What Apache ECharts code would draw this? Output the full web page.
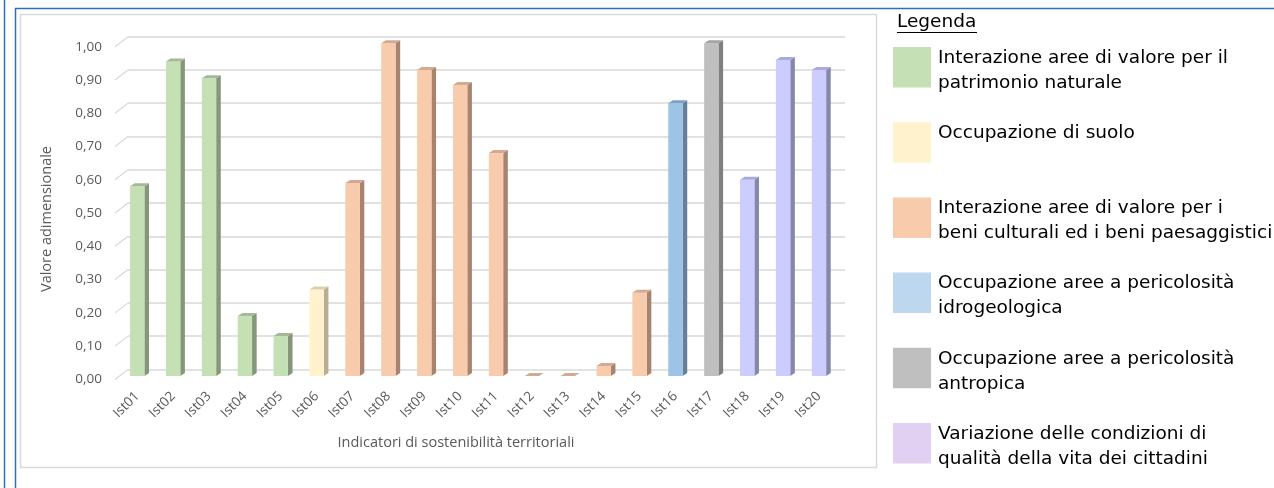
<!DOCTYPE html>
<html>
<head>
<meta charset="utf-8">
<script src="https://cdn.jsdelivr.net/npm/echarts@6/dist/echarts.min.js"></script>
<style>
html,body{margin:0;padding:0;background:#fff;}
#chart{width:1274px;height:488px;}
</style>
</head>
<body>
<div id="chart"></div>
<script>
// ---- data ----
const categories = ['Ist01','Ist02','Ist03','Ist04','Ist05','Ist06','Ist07','Ist08','Ist09','Ist10',
                    'Ist11','Ist12','Ist13','Ist14','Ist15','Ist16','Ist17','Ist18','Ist19','Ist20'];
const values = [0.57,0.945,0.895,0.18,0.12,0.26,0.58,1.00,0.92,0.875,
                0.67,0.00,0.00,0.03,0.25,0.82,1.00,0.59,0.95,0.92];
const groupOf = [0,0,0,0,0,1,2,2,2,2,2,2,2,2,2,3,4,5,5,5];
const legendLabels = [
  ['Interazione aree di valore per il','patrimonio naturale'],
  ['Occupazione di suolo'],
  ['Interazione aree di valore per i','beni culturali ed i beni paesaggistici'],
  ['Occupazione aree a pericolosità','idrogeologica'],
  ['Occupazione aree a pericolosità','antropica'],
  ['Variazione delle condizioni di','qualità della vita dei cittadini']
];
const legendTitle = 'Legenda';
const yAxisTitle = 'Valore adimensionale';
const xAxisTitle = 'Indicatori di sostenibilità territoriali';
const yTickValues = [0,0.1,0.2,0.3,0.4,0.5,0.6,0.7,0.8,0.9,1.0];

// ---- styles ----
const frontColors = ['#c5e0b4','#fff2cc','#f8cbad','#9dc3e6','#bfbfbf','#ccccff'];
const sideColors  = ['#84977a','#b9ae92','#a8846f','#64809b','#7f7f7f','#8687ad'];
const topColors   = ['#a4ba97','#dcd0ae','#d1aa91','#7ea1c2','#a3a3a3','#aaaad8'];
const legendColors = ['#c5e0b4','#fff2cc','#f8cbad','#bdd7ee','#bfbfbf','#e1d0f1'];
const axisTextColor = '#595959';
const gridColor = '#d9d9d9';
const legendFont = '18.5px "DejaVu Sans"';

const chart = echarts.init(document.getElementById('chart'), null, {renderer:'canvas'});

function renderBar(params, api){
  const i = api.value(0), v = api.value(1), g = api.value(2);
  const base = api.coord([i, 0]);
  const top = api.coord([i, v]);
  const w = api.size([1, 0])[0] * 0.4;
  const x0 = base[0] - w/2, x1 = base[0] + w/2;
  const yb = base[1], yt = top[1];
  const dx = 4.6, dy = -3;
  return {
    type:'group',
    children:[
      {type:'polygon', shape:{points:[[x1,yt],[x1+dx,yt+dy],[x1+dx,yb+dy],[x1,yb]]}, style:{fill:sideColors[g]}},
      {type:'rect', shape:{x:x0, y:yt, width:w, height:yb-yt}, style:{fill:frontColors[g]}},
      {type:'polygon', shape:{points:[[x0,yt],[x0+dx,yt+dy],[x1+dx,yt+dy],[x1,yt]]}, style:{fill:topColors[g]}}
    ]
  };
}

function renderDiag(params, api){
  const p = api.coord([0, api.value(1)]);
  return {type:'line', shape:{x1:p[0], y1:p[1], x2:p[0]+13, y2:p[1]-10}, style:{stroke:gridColor, lineWidth:1.2}};
}

const graphics = [];
// frame lines
graphics.push({type:'line', shape:{x1:4.5,y1:0,x2:4.5,y2:488}, style:{stroke:'#2f6fbd', lineWidth:1.5}, silent:true});
graphics.push({type:'line', shape:{x1:15.5,y1:8,x2:15.5,y2:488}, style:{stroke:'#2f6fbd', lineWidth:1.5}, silent:true});
graphics.push({type:'line', shape:{x1:15,y1:8.5,x2:1274,y2:8.5}, style:{stroke:'#2f6fbd', lineWidth:1.5}, silent:true});
// chart area border
graphics.push({type:'rect', shape:{x:20.5,y:14.5,width:856,height:453}, style:{fill:null, stroke:'#d9d9d9', lineWidth:1.5}, silent:true});
// axis titles
graphics.push({type:'text', x:47, y:219, rotation:Math.PI/2, style:{text:yAxisTitle, fill:axisTextColor, font:'14.5px "Open Sans"', align:'center', verticalAlign:'middle'}});
graphics.push({type:'text', x:456, y:443, style:{text:xAxisTitle, fill:axisTextColor, font:'14.5px "Open Sans"', align:'center', verticalAlign:'middle'}});
// legend
graphics.push({type:'text', x:897, y:22, style:{text:legendTitle, fill:'#000', font:legendFont, align:'left', verticalAlign:'middle'}});
graphics.push({type:'line', shape:{x1:897,y1:32.5,x2:977,y2:32.5}, style:{stroke:'#000', lineWidth:1.2}});
legendLabels.forEach((lines, k) => {
  const top = 47 + k*75.2;
  graphics.push({type:'rect', shape:{x:893, y:top, width:38, height:40.5}, style:{fill:legendColors[k]}});
  lines.forEach((t, j) => {
    graphics.push({type:'text', x:938, y:top + 11 + j*25, style:{text:t, fill:'#000', font:legendFont, align:'left', verticalAlign:'middle'}});
  });
});

const option = {
  animation:false,
  backgroundColor:'#fff',
  grid:[
    {left:119.3, top:43.3, width:717.6, height:332.7},   // bars (front)
    {left:128, top:36.7, width:717, height:332.7},        // back wall gridlines
    {left:115, top:46.7, width:717, height:332.7}         // front labels & corner lines
  ],
  xAxis:[
    {gridIndex:0, type:'category', data:categories, axisLine:{show:false}, axisTick:{show:false},
     axisLabel:{rotate:45, margin:18, color:axisTextColor, fontSize:13.5, fontFamily:'Open Sans', interval:0}},
    {gridIndex:1, type:'value', min:0, max:1, show:false},
    {gridIndex:2, type:'value', min:0, max:1, show:false}
  ],
  yAxis:[
    {gridIndex:0, type:'value', min:0, max:1, interval:0.1, show:false, splitLine:{show:false}},
    {gridIndex:1, type:'value', min:0, max:1, interval:0.1, axisLabel:{show:false}, axisLine:{show:false}, axisTick:{show:false},
     splitLine:{show:true, lineStyle:{color:gridColor, width:1.6}}},
    {gridIndex:2, type:'value', min:0, max:1, interval:0.1, axisLine:{show:false}, axisTick:{show:false}, splitLine:{show:false},
     axisLabel:{margin:13, color:axisTextColor, fontSize:13.5, fontFamily:'Open Sans',
       formatter:v => v.toFixed(2).replace('.', ',')}}
  ],
  graphic:graphics,
  series:[
    {type:'custom', xAxisIndex:2, yAxisIndex:2, renderItem:renderDiag, data:yTickValues.map(v=>[0,v]), silent:true, clip:false, z:1},
    {type:'custom', xAxisIndex:0, yAxisIndex:0, renderItem:renderBar,
     data:categories.map((c,i)=>[i, values[i], groupOf[i]]), encode:{x:0, y:1}, clip:false, z:3}
  ]
};
chart.setOption(option);
</script>
</body>
</html>
